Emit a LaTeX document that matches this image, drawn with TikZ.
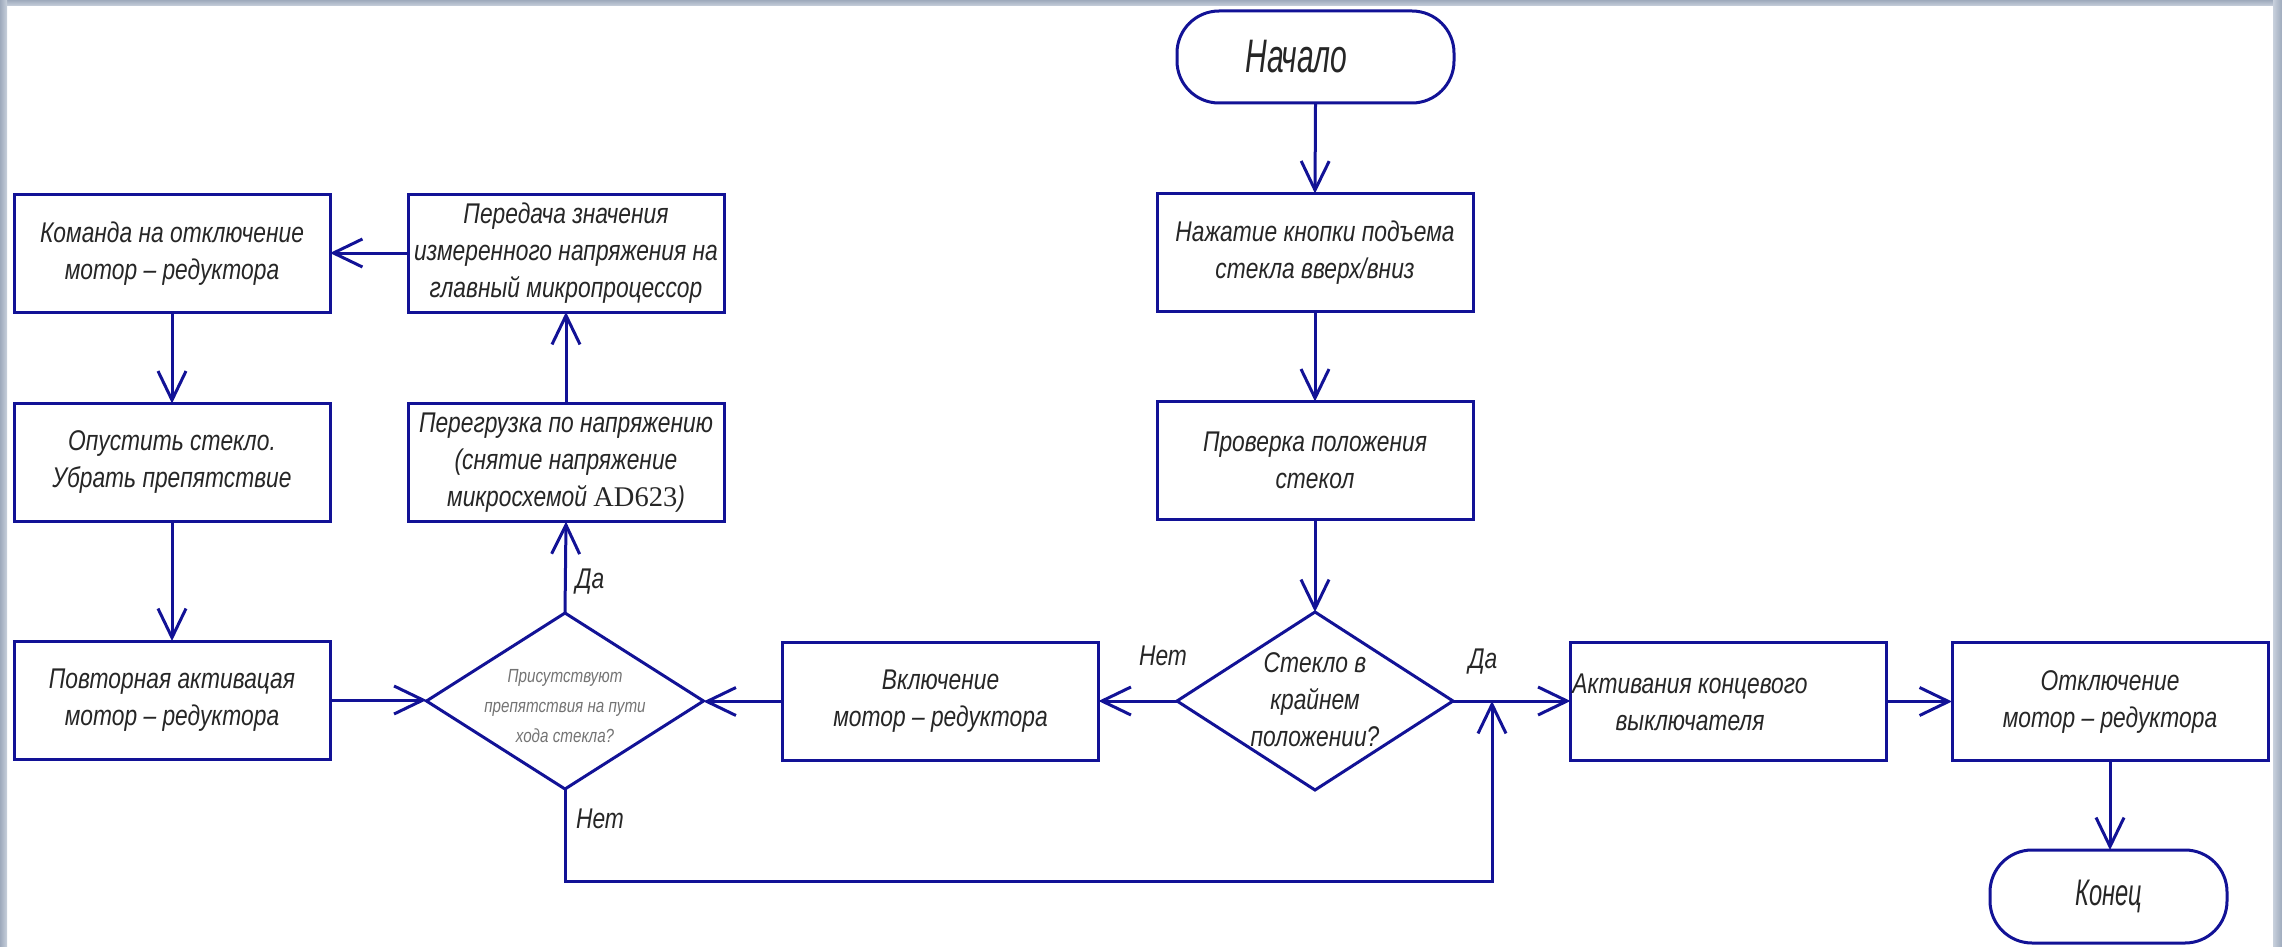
\documentclass[tikz,border=0pt]{standalone}
\usepackage{fontspec}
\newfontfamily\gost{Liberation Sans}[FakeStretch=0.80]
\newfontfamily\gostbig{Liberation Sans}[FakeStretch=0.64]
\newfontfamily\gostser{Liberation Serif}
\usetikzlibrary{arrows.meta,shapes.geometric}
\definecolor{ln}{RGB}{18,18,150}
\definecolor{framecol}{RGB}{158,170,188}
\definecolor{framelite}{RGB}{200,208,220}
\begin{document}
\begin{tikzpicture}[x=1pt,y=-1pt,
  every node/.style={inner sep=0pt, outer sep=0pt},
  box/.style={draw=ln, line width=3pt, minimum width=316pt, minimum height=118pt,
    align=center, font=\gost\itshape\fontsize{28.5}{37}\selectfont, text=black!85},
  term/.style={box, rounded corners=42pt},
  dia/.style={draw=ln, line width=3pt, diamond, minimum width=276pt, minimum height=178pt},
  txt/.style={align=center, font=\gost\itshape\fontsize{28.5}{37}\selectfont, text=black!85},
  smalltxt/.style={align=center, font=\gost\itshape\fontsize{19}{30}\selectfont, text=black!55},
  bigtxt/.style={font=\gostbig\itshape\fontsize{47}{50}\selectfont},
  endtxt/.style={font=\gostbig\itshape\fontsize{37}{40}\selectfont},
  arr/.style={draw=ln, line width=3pt, -{Straight Barb[length=29pt,width=28pt]}}
  ]
\useasboundingbox (0,0) rectangle (2282,947);
% frame
\shade[top color=framecol, bottom color=framelite] (0,0) rectangle (2282,6);
\shade[left color=framecol, right color=framelite] (0,0) rectangle (7,947);
\shade[left color=framelite, right color=framecol] (2273,0) rectangle (2282,947);

% nodes
\node[term, minimum width=277pt, minimum height=92pt, bigtxt] (nach) at (1315.5,57) {Начало\hspace*{38pt}};
\node[box] (nazh) at (1315,252.5) {Нажатие кнопки подъема\\стекла вверх/вниз};
\node[box] (prov) at (1315,460.5) {Проверка положения\\стекол};
\node[dia] (d2) at (1315,701) {};
\node[txt] (d2t) at (1315,700) {Стекло в\\крайнем\\положении?};
\node[box] (vkl) at (940.5,701.5) {Включение\\мотор – редуктора};
\node[dia, minimum width=277pt, minimum height=176pt] (d1) at (565,701) {};
\node[smalltxt] (d1t) at (565,706) {Присутствуют\\препятствия на пути\\хода стекла?};
\node[box] (povt) at (172,700) {Повторная активацая\\мотор – редуктора};
\node[box] (opus) at (172,462.5) {Опустить стекло.\\Убрать препятствие};
\node[box] (koma) at (172,253.5) {Команда на отключение\\мотор – редуктора};
\node[box] (pere) at (566,253) {Передача значения\\измеренного напряжения на\\главный микропроцессор};
\node[box] (perg) at (566,462.5) {Перегрузка по напряжению\\(снятие напряжение\\микросхемой {\gostser\upshape AD623})};
\node[box] (akt) at (1728.5,701.5) {};
\node[txt] (aktt) at (1690,702) {Активания концевого\\выключателя};
\node[box] (otkl) at (2110,701.5) {Отключение\\мотор – редуктора};
\node[term, minimum width=237pt, minimum height=93pt, endtxt] (kon) at (2108.5,896.5) {Конец};

% labels
\node[txt] (da1) at (590,582) {Да};
\node[txt] (net1) at (600,819) {Нет};
\node[txt] (net2) at (1163,656) {Нет};
\node[txt] (da2) at (1483,662) {Да};

% connectors
\draw[arr] (nach.south) -- (nazh.north);
\draw[arr] (nazh.south) -- (prov.north);
\draw[arr] (prov.south) -- (d2.north);
\draw[arr] (d2.west) -- (d2.west -| vkl.east);
\draw[arr] (vkl.west) -- (vkl.west -| d1.east);
\draw[arr] (povt.east) -- (povt.east -| d1.west);
\draw[arr] (d1.north) -- (perg.south);
\draw[arr] (perg.north) -- (pere.south);
\draw[arr] (pere.west) -- (pere.west -| koma.east);
\draw[arr] (koma.south) -- (opus.north);
\draw[arr] (opus.south) -- (povt.north);
\draw[arr] (d2.east) -- (d2.east -| akt.west);
\draw[arr] (akt.east) -- (akt.east -| otkl.west);
\draw[arr] (otkl.south) -- (otkl.south |- kon.north);
\coordinate (join) at (1492,701);
\coordinate (bot) at (1492,881);
\draw[arr] (d1.south) |- (bot) -- (join);
\end{tikzpicture}
\end{document}
